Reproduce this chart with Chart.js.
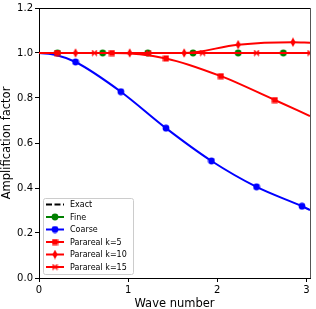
<!DOCTYPE html>
<html><head><meta charset="utf-8">
<script src="https://cdn.jsdelivr.net/npm/chart.js@4.4.0/dist/chart.umd.min.js"></script>
<style>html,body{margin:0;padding:0;background:#fff}canvas{display:block}</style>
</head><body><canvas id="c" width="316" height="309"></canvas>
<script>
// ---- data ----
const xTicks = [0, 1, 2, 3];
const yTicks = [0, 0.2, 0.4, 0.6, 0.8, 1.0, 1.2];
const seriesLabels = ["Exact", "Fine", "Coarse", "Parareal k=5", "Parareal k=10", "Parareal k=15"];

const exactX = [0, 3.04];
const exactY = [1, 1];

const fineX = [0, 0.207, 0.714, 1.22, 1.728, 2.234, 2.741, 3.04];
const fineY = [1, 1, 1, 1, 1, 1, 1, 1];
const fineMarks = [1, 2, 3, 4, 5, 6];

const coarseX = [0, 0.2, 0.41, 0.918, 1.424, 1.935, 2.44, 2.95, 3.04];
const coarseY = [1, 0.99, 0.960, 0.828, 0.666, 0.520, 0.405, 0.319, 0.302];
const coarseMarks = [2, 3, 4, 5, 6, 7];

const k5X = [0, 0.203, 0.818, 1.424, 2.04, 2.645, 3.04];
const k5Y = [1, 1, 1, 0.976, 0.897, 0.791, 0.72];
const k5Marks = [1, 2, 3, 4, 5];

const k10X = [0, 0.41, 1.018, 1.628, 2.234, 2.849, 3.04];
const k10Y = [1, 1, 1, 1, 1.037, 1.048, 1.046];
const k10Marks = [1, 2, 3, 4, 5];

const k15X = [0, 0.622, 1.23, 1.835, 2.44, 3.04];
const k15Y = [1, 1, 1, 1, 1, 1];
const k15Marks = [1, 2, 3, 4, 5];

// ---- marker images ----
function mk(w, h, draw) {
  const c = document.createElement('canvas');
  c.width = w; c.height = h;
  draw(c.getContext('2d'));
  return c;
}
const circleG = mk(8, 8, g => { g.fillStyle = '#008000'; g.beginPath(); g.arc(4, 4, 3.4, 0, Math.PI * 2); g.fill(); });
const circleB = mk(8, 8, g => { g.fillStyle = '#0000ff'; g.beginPath(); g.arc(4, 4, 3.4, 0, Math.PI * 2); g.fill(); });
const squareR = mk(7, 7, g => { g.fillStyle = '#ff0000'; g.fillRect(0.5, 0.5, 6, 6); });
const diamondR = mk(6, 10, g => { g.fillStyle = '#ff0000'; g.beginPath(); g.moveTo(3, 0.3); g.lineTo(5.6, 5); g.lineTo(3, 9.7); g.lineTo(0.4, 5); g.closePath(); g.fill(); });
const crossR = mk(7, 7, g => { g.strokeStyle = '#ff0000'; g.lineWidth = 1.7; g.beginPath(); g.moveTo(1, 1); g.lineTo(6, 6); g.moveTo(6, 1); g.lineTo(1, 6); g.stroke(); });

function pts(xs, ys) { return xs.map((x, i) => ({ x: x, y: ys[i] })); }
function ds(label, xs, ys, marks, color, marker, order, dash) {
  return {
    label: label,
    data: pts(xs, ys),
    borderColor: color,
    backgroundColor: color,
    borderWidth: 2,
    borderDash: dash || [],
    cubicInterpolationMode: 'monotone',
    pointStyle: marker || false,
    pointRadius: c => (marks && marks.includes(c.dataIndex)) ? 4 : 0,
    pointHoverRadius: 0,
    order: order,
    _marker: marker
  };
}

const datasets = [
  ds(seriesLabels[0], exactX, exactY, null, '#000000', null, 5, [6, 2.5]),
  ds(seriesLabels[1], fineX, fineY, fineMarks, '#008000', circleG, 4),
  ds(seriesLabels[2], coarseX, coarseY, coarseMarks, '#0000ff', circleB, 3),
  ds(seriesLabels[3], k5X, k5Y, k5Marks, '#ff0000', squareR, 2),
  ds(seriesLabels[4], k10X, k10Y, k10Marks, '#ff0000', diamondR, 1),
  ds(seriesLabels[5], k15X, k15Y, k15Marks, '#ff0000', crossR, 0)
];

const FONT = 'DejaVu Sans';

const framePlugin = {
  id: 'frame',
  afterDraw(chart) {
    const { ctx, chartArea: a } = chart;
    ctx.save();
    ctx.strokeStyle = '#000';
    ctx.lineWidth = 1;
    ctx.beginPath();
    ctx.moveTo(a.left, a.top + 0.5); ctx.lineTo(a.right, a.top + 0.5);
    ctx.stroke();
    ctx.strokeStyle = '#555';
    ctx.beginPath();
    ctx.moveTo(a.right + 0.5, a.top); ctx.lineTo(a.right + 0.5, a.bottom);
    ctx.stroke();
    // legend
    const bx = 43.5, by = 198.5, bw = 90, bh = 76;
    ctx.fillStyle = 'rgba(255,255,255,0.85)';
    ctx.strokeStyle = '#cccccc';
    ctx.lineWidth = 1;
    ctx.beginPath();
    if (ctx.roundRect) ctx.roundRect(bx, by, bw, bh, 2); else ctx.rect(bx, by, bw, bh);
    ctx.fill(); ctx.stroke();
    ctx.font = '8px "' + FONT + '"';
    ctx.textBaseline = 'middle';
    ctx.textAlign = 'left';
    chart.data.datasets.forEach((d, i) => {
      const y = 204.5 + i * 12.5;
      ctx.save();
      ctx.strokeStyle = d.borderColor;
      ctx.lineWidth = 2;
      ctx.setLineDash(d.borderDash || []);
      ctx.beginPath(); ctx.moveTo(46, y); ctx.lineTo(64, y); ctx.stroke();
      ctx.restore();
      if (d._marker) {
        const m = d._marker;
        ctx.drawImage(m, 55 - m.width / 2, y - m.height / 2);
      }
      ctx.fillStyle = '#000';
      ctx.fillText(d.label, 70, y + 0.5);
    });
    ctx.restore();
  }
};

new Chart(document.getElementById('c'), {
  type: 'line',
  data: { datasets: datasets },
  options: {
    responsive: false,
    animation: false,
    devicePixelRatio: 1,
    layout: { padding: { top: 5, right: 3, left: 0, bottom: 0 } },
    plugins: { legend: { display: false }, tooltip: { enabled: false } },
    scales: {
      x: {
        type: 'linear', min: 0, max: 3.04,
        afterBuildTicks: s => { s.ticks = xTicks.map(v => ({ value: v })); },
        afterFit: s => { s.height = 31; },
        ticks: { font: { family: FONT, size: 10 }, color: '#000', padding: 2, maxRotation: 0, callback: v => String(v) },
        grid: { drawOnChartArea: false, tickLength: 4, color: '#000' },
        border: { display: true, color: '#000', width: 1 },
        title: { display: true, text: 'Wave number', font: { family: FONT, size: 11.5 }, color: '#000', padding: { top: 0, bottom: -1.5 } }
      },
      y: {
        type: 'linear', min: 0, max: 1.2,
        afterBuildTicks: s => { s.ticks = yTicks.map(v => ({ value: v })); },
        afterFit: s => { s.width = 39; },
        ticks: { font: { family: FONT, size: 10 }, color: '#000', padding: 2, callback: v => v.toFixed(1) },
        grid: { drawOnChartArea: false, tickLength: 4, color: '#000' },
        border: { display: true, color: '#000', width: 1 },
        title: { display: true, text: 'Amplification factor', font: { family: FONT, size: 11.5 }, color: '#000', padding: { top: 0, bottom: 0 } }
      }
    }
  },
  plugins: [framePlugin]
});
</script>
</body></html>
